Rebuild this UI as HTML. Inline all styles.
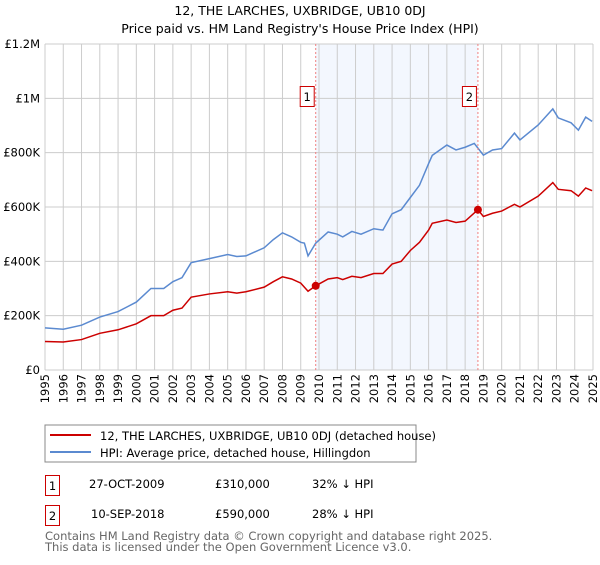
<!DOCTYPE html>
<html><head><meta charset="utf-8"><style>
body{margin:0;background:#fff;font-family:"Liberation Sans","DejaVu Sans",sans-serif;}
svg text{font-family:"DejaVu Sans","Liberation Sans",sans-serif;}
</style></head><body>
<svg id="c" width="600" height="560" xmlns="http://www.w3.org/2000/svg">
<text x="300" y="15" text-anchor="middle" font-size="12.5">12, THE LARCHES, UXBRIDGE, UB10 0DJ</text>
<text x="300" y="33" text-anchor="middle" font-size="12.5">Price paid vs. HM Land Registry's House Price Index (HPI)</text>
<g id="grid"></g><g id="series"></g>
<rect x="45" y="425" width="371" height="37" fill="#fff" stroke="#888"/>
<line x1="50" y1="435" x2="91" y2="435" stroke="#cc0000" stroke-width="2"/>
<text x="100" y="440" font-size="11.5">12, THE LARCHES, UXBRIDGE, UB10 0DJ (detached house)</text>
<line x1="50" y1="452" x2="91" y2="452" stroke="#5b8ad0" stroke-width="2"/>
<text x="100" y="457" font-size="11.5">HPI: Average price, detached house, Hillingdon</text>
<g font-size="11.5">
<rect x="45.5" y="475.5" width="14" height="20" fill="none" stroke="#cc0000"/><text x="52.5" y="490" text-anchor="middle">1</text>
<text x="89" y="488">27-OCT-2009</text><text x="215" y="488">£310,000</text><text x="312" y="488">32% ↓ HPI</text></g>
<g font-size="11.5">
<rect x="45.5" y="505.5" width="14" height="20" fill="none" stroke="#cc0000"/><text x="52.5" y="520" text-anchor="middle">2</text>
<text x="91" y="518">10-SEP-2018</text><text x="215" y="518">£590,000</text><text x="312" y="518">28% ↓ HPI</text></g>
<text x="45" y="540" font-size="11.5" fill="#666">Contains HM Land Registry data © Crown copyright and database right 2025.</text>
<text x="45" y="551" font-size="11.5" fill="#666">This data is licensed under the Open Government Licence v3.0.</text>
</svg>
<script>
const yTicks=[0,200000,400000,600000,800000,1000000,1200000];
const yTickLabels=["£0","£200K","£400K","£600K","£800K","£1M","£1.2M"];
const years=[1995,1996,1997,1998,1999,2000,2001,2002,2003,2004,2005,2006,2007,2008,2009,2010,2011,2012,2013,2014,2015,2016,2017,2018,2019,2020,2021,2022,2023,2024,2025];
const hpiT=[1995,1996,1997,1998,1999,2000,2000.8,2001.5,2002,2002.5,2003,2004,2005,2005.5,2006,2007,2007.5,2008,2008.5,2009,2009.2,2009.4,2009.82,2010.5,2011,2011.3,2011.8,2012.3,2013,2013.5,2014,2014.5,2015,2015.5,2016,2016.2,2017,2017.5,2018,2018.5,2019,2019.5,2020,2020.7,2021,2022,2022.8,2023.1,2023.8,2024.2,2024.6,2024.95];
const hpiV=[155,150,165,195,215,250,300,300,325,340,395,410,425,418,420,450,480,505,490,470,467,420,467,508,500,490,510,500,520,515,575,590,635,680,760,790,828,810,820,834,791,810,815,872,847,902,961,928,910,883,931,915];
const ppT=[1995,1996,1997,1998,1999,2000,2000.8,2001.5,2002,2002.5,2003,2004,2005,2005.5,2006,2007,2007.5,2008,2008.5,2009,2009.4,2009.82,2010.5,2011,2011.3,2011.8,2012.3,2013,2013.5,2014,2014.5,2015,2015.5,2016,2016.2,2017,2017.5,2018,2018.7,2019,2019.5,2020,2020.7,2021,2022,2022.8,2023.1,2023.8,2024.2,2024.6,2024.95];
const ppV=[105,103,112,135,148,170,200,200,220,228,268,280,288,283,288,305,325,343,335,320,290,310,335,340,333,345,340,355,355,390,400,440,470,515,540,552,543,548,590,565,577,585,610,600,640,690,665,660,640,670,660];
const saleT=[2009.82,2018.7];
const saleV=[310,590];
const saleLabels=["1","2"];
const X=t=>45+(t-1995)*(548/30);
const Y=v=>370-v/1200000*326;
const NS="http://www.w3.org/2000/svg";
function mk(tag,attrs,parent){const e=document.createElementNS(NS,tag);for(const k in attrs)e.setAttribute(k,attrs[k]);parent.appendChild(e);return e;}
const g=document.getElementById('grid'), s=document.getElementById('series');
const sh=mk('rect',{x:X(saleT[0]),y:44,width:X(saleT[1])-X(saleT[0]),height:326,fill:'#eef3fd',opacity:0.7},g);


years.forEach(y=>{const l=mk('line',{x1:X(y),x2:X(y),y1:44,y2:370,stroke:'#ccc'},g);


const t=mk('text',{x:0,y:0,'font-size':11.5,'text-anchor':'end',transform:`translate(${X(y)+4},374) rotate(-90)`},g);t.textContent=y;

});
yTicks.forEach((v,i)=>{const l=mk('line',{x1:45,x2:593,y1:Y(v),y2:Y(v),stroke:'#ccc'},g);


const t=mk('text',{x:40,y:Y(v)+4,'font-size':11.5,'text-anchor':'end'},g);t.textContent=yTickLabels[i];

});
const hp=mk('polyline',{points:hpiT.map((t,i)=>X(t)+','+Y(hpiV[i]*1000)).join(' '),fill:'none',stroke:'#5b8ad0','stroke-width':1.5},s);


const pp=mk('polyline',{points:ppT.map((t,i)=>X(t)+','+Y(ppV[i]*1000)).join(' '),fill:'none',stroke:'#cc0000','stroke-width':1.5},s);


saleT.forEach((t,i)=>{const l=mk('line',{x1:X(t),x2:X(t),y1:44,y2:370,stroke:'#f08080','stroke-dasharray':'2,2'},s);


const c=mk('circle',{cx:X(t),cy:Y(saleV[i]*1000),r:4,fill:'#cc0000'},s);


const r=mk('rect',{x:X(t)-15.5,y:86.5,width:14,height:20,fill:'#fff',stroke:'#cc0000'},s);


const tx=mk('text',{x:X(t)-8.5,y:101,'font-size':11.5,'text-anchor':'middle'},s);tx.textContent=saleLabels[i];

});
</script>
</body></html>
